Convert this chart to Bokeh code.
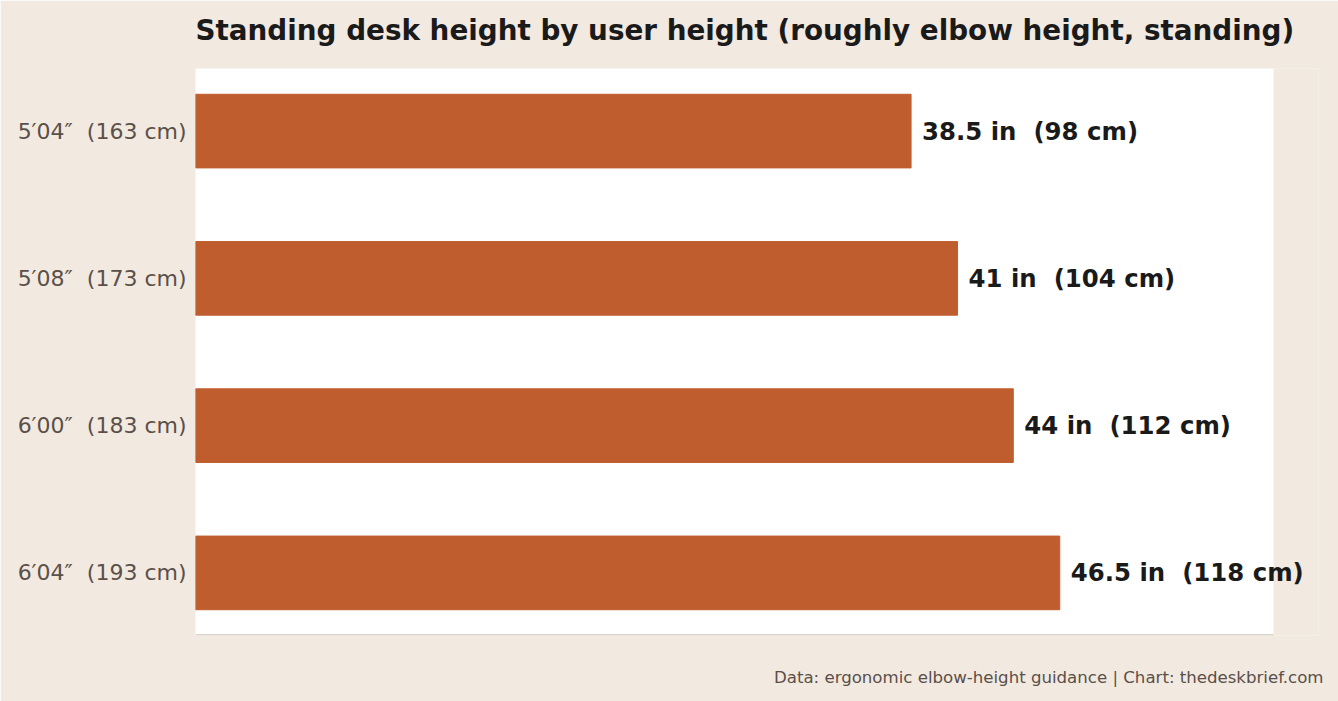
from bokeh.plotting import figure
from bokeh.models import ColumnDataSource, Range1d, FixedTicker, LabelSet, Title, BoxAnnotation, LinearAxis
from bokeh.core.properties import value
from bokeh.embed import file_html
from bokeh.resources import INLINE

user_heights = ["5′04″ \u00a0(163 cm)", "5′08″ \u00a0(173 cm)", "6′00″ \u00a0(183 cm)", "6′04″ \u00a0(193 cm)"]
desk_in = [38.5, 41, 44, 46.5]
desk_cm = [98, 104, 112, 118]

# value axis extent (inches) of the white plotting panel
AXIS_MAX = 58.0

idx = list(range(len(user_heights)))
labels = [f"{i:g} in \u00a0({c} cm)" for i, c in zip(desk_in, desk_cm)]
src = ColumnDataSource(dict(y=idx, v=desk_in, lab=labels))

BG = "#F2E9E1"
PANEL_PX = 1078
FRAME_PX = 1338 - 195 - 20
x_end = AXIS_MAX * FRAME_PX / PANEL_PX
Y0, Y1 = 3.425, -0.425

p = figure(width=1338, height=701, output_backend="svg", toolbar_location=None,
           x_range=Range1d(0, x_end), y_range=Range1d(Y0, Y1),
           min_border_left=195, min_border_right=20, min_border_top=68, min_border_bottom=66)
p.border_fill_color = BG
p.background_fill_color = BG
p.outline_line_color = None

panel = BoxAnnotation(left=0, right=AXIS_MAX, fill_color="white", fill_alpha=1,
                      line_color=None, level="underlay")
p.add_layout(panel)

p.hbar(y="y", right="v", left=0, height=0.5, source=src, color="#C05D2E")
p.segment(x0=[0], x1=[AXIS_MAX], y0=[Y0], y1=[Y0], line_color="#DDD5CC", line_width=3)

ls = LabelSet(x="v", y="y", text="lab", source=src, x_offset=11, text_baseline="middle",
              text_font=value("DejaVu Sans"), text_font_style="bold", text_font_size="24.4px",
              text_color="#1A1A1A")
p.add_layout(ls)

p.title.text = "Standing desk height by user height (roughly elbow height, standing)"
p.title.text_font = "DejaVu Sans"
p.title.text_font_size = "27.8px"
p.title.text_font_style = "bold"
p.title.text_color = "#1A1A1A"
p.title.standoff = 4

p.xgrid.grid_line_color = None
p.ygrid.grid_line_color = None

p.yaxis.ticker = FixedTicker(ticks=idx)
p.yaxis.major_label_overrides = {i: t for i, t in zip(idx, user_heights)}
p.yaxis.axis_line_color = None
p.yaxis.major_tick_line_color = None
p.yaxis.minor_tick_line_color = None
p.yaxis.major_tick_out = 0
p.yaxis.major_tick_in = 0
p.yaxis.major_label_text_font = "DejaVu Sans"
p.yaxis.major_label_text_font_size = "22px"
p.yaxis.major_label_text_color = "#5A5049"
p.yaxis.major_label_standoff = 9


def spacer_axis(extent):
    ax = LinearAxis()
    ax.axis_line_color = None
    ax.major_tick_line_color = None
    ax.minor_tick_line_color = None
    ax.major_tick_in = 0
    ax.major_tick_out = extent
    ax.minor_tick_out = 0
    ax.major_label_standoff = 0
    ax.major_label_text_font_size = "0px"
    return ax


# bottom axis works only as blank space between the panel and the footer
p.xaxis.axis_line_color = None
p.xaxis.major_tick_line_color = None
p.xaxis.minor_tick_line_color = None
p.xaxis.major_tick_in = 0
p.xaxis.major_tick_out = 26
p.xaxis.minor_tick_out = 0
p.xaxis.major_label_standoff = 0
p.xaxis.major_label_text_font_size = "0px"

p.add_layout(spacer_axis(20), "above")

foot = Title(text="Data: ergonomic elbow-height guidance | Chart: thedeskbrief.com",
             align="right", text_font="DejaVu Sans", text_font_size="16.6px",
             text_font_style="normal", text_color="#5A5049", offset=-5, standoff=8)
p.add_layout(foot, "below")

open("out.html", "w").write(file_html(p, INLINE))
